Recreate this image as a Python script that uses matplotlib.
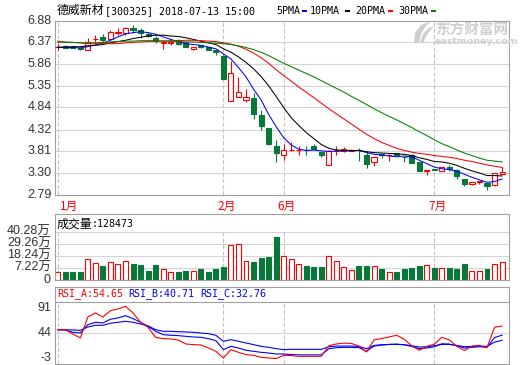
import numpy as np
import matplotlib
matplotlib.use("Agg")
import matplotlib.pyplot as plt
from matplotlib.patches import Rectangle, PathPatch
from matplotlib.path import Path
from matplotlib.transforms import blended_transform_factory

plt.rcParams['font.family'] = ['Liberation Sans', 'Noto Sans CJK SC']
plt.rcParams['lines.scale_dashes'] = False

# ---- datos (indice = sesion) ----
opens = [6.26, 6.29, 6.28, 6.25, 6.18, 6.45, 6.50, 6.44, 6.60, 6.60,
         6.72, 6.65, 6.57, 6.47, 6.36, 6.36, 6.42, 6.37, 6.21, 6.30,
         6.26, 6.18, 6.06, 4.99, 5.09, 5.01, 5.06, 4.67, 4.36, 3.94,
         3.72, 3.83, 3.83, 3.85, 3.94, 3.79, 3.48, 3.84, 3.81, 3.82,
         3.84, 3.72, 3.55, 3.74, 3.72, 3.76, 3.68, 3.72, 3.56, 3.34,
         3.39, 3.35, 3.44, 3.38, 3.17, 3.05, 3.10, 3.07, 3.01, 3.28]
highs = [6.33, 6.31, 6.29, 6.26, 6.47, 6.55, 6.57, 6.67, 6.71, 6.74,
         6.79, 6.71, 6.61, 6.51, 6.43, 6.43, 6.46, 6.39, 6.27, 6.31,
         6.27, 6.21, 6.08, 5.94, 5.55, 5.27, 5.18, 4.79, 4.36, 4.07,
         3.98, 4.03, 3.93, 3.93, 3.97, 3.80, 3.83, 3.94, 3.90, 3.86,
         3.89, 3.81, 3.67, 3.77, 3.74, 3.78, 3.68, 3.75, 3.56, 3.38,
         3.40, 3.45, 3.49, 3.39, 3.17, 3.09, 3.12, 3.07, 3.30, 3.44]
lows = [6.18, 6.23, 6.23, 6.18, 6.18, 6.38, 6.37, 6.44, 6.54, 6.55,
        6.59, 6.47, 6.49, 6.36, 6.22, 6.32, 6.30, 6.26, 6.19, 6.24,
        6.18, 6.08, 5.52, 4.99, 5.09, 4.96, 4.58, 4.32, 3.95, 3.56,
        3.61, 3.82, 3.73, 3.73, 3.86, 3.68, 3.48, 3.73, 3.80, 3.81,
        3.59, 3.42, 3.47, 3.65, 3.59, 3.71, 3.56, 3.54, 3.34, 3.25,
        3.37, 3.35, 3.34, 3.16, 2.99, 3.01, 3.03, 2.89, 2.99, 3.28]
closes = [6.27, 6.25, 6.25, 6.21, 6.37, 6.46, 6.43, 6.61, 6.61, 6.71,
          6.65, 6.58, 6.51, 6.40, 6.37, 6.37, 6.33, 6.26, 6.26, 6.27,
          6.20, 6.14, 5.52, 5.65, 5.20, 5.09, 4.69, 4.41, 3.98, 3.77,
          3.83, 3.84, 3.84, 3.83, 3.86, 3.72, 3.82, 3.85, 3.86, 3.84,
          3.83, 3.52, 3.67, 3.73, 3.73, 3.72, 3.67, 3.54, 3.34, 3.37,
          3.38, 3.44, 3.40, 3.22, 3.05, 3.09, 3.11, 3.00, 3.30, 3.32]

ma5 = [6.25, 6.25, 6.25, 6.24, 6.27, 6.31, 6.35, 6.42, 6.50, 6.57,
       6.60, 6.62, 6.60, 6.56, 6.50, 6.44, 6.39, 6.34, 6.32, 6.30,
       6.26, 6.22, 6.10, 5.98, 5.78, 5.56, 5.27, 5.02, 4.68, 4.39,
       4.13, 3.96, 3.86, 3.83, 3.84, 3.82, 3.81, 3.81, 3.82, 3.82,
       3.83, 3.78, 3.74, 3.72, 3.70, 3.68, 3.70, 3.68, 3.60, 3.52,
       3.44, 3.40, 3.38, 3.34, 3.27, 3.20, 3.14, 3.08, 3.10, 3.16]
ma10 = [6.26, 6.26, 6.26, 6.27, 6.29, 6.30, 6.32, 6.36, 6.39, 6.42,
        6.46, 6.49, 6.52, 6.54, 6.54, 6.52, 6.51, 6.48, 6.44, 6.40,
        6.36, 6.32, 6.22, 6.14, 6.03, 5.90, 5.75, 5.57, 5.35, 5.10,
        4.84, 4.60, 4.42, 4.25, 4.11, 3.97, 3.88, 3.84, 3.83, 3.83,
        3.83, 3.80, 3.78, 3.77, 3.76, 3.75, 3.74, 3.71, 3.66, 3.62,
        3.57, 3.56, 3.53, 3.48, 3.41, 3.35, 3.30, 3.24, 3.24, 3.23]
ma20 = [6.40, 6.38, 6.37, 6.36, 6.34, 6.34, 6.34, 6.34, 6.34, 6.36,
        6.37, 6.38, 6.39, 6.40, 6.40, 6.41, 6.41, 6.42, 6.42, 6.41,
        6.40, 6.39, 6.36, 6.33, 6.28, 6.21, 6.12, 6.01, 5.88, 5.73,
        5.59, 5.46, 5.32, 5.20, 5.07, 4.94, 4.81, 4.69, 4.57, 4.45,
        4.33, 4.21, 4.11, 4.02, 3.95, 3.88, 3.83, 3.79, 3.76, 3.74,
        3.71, 3.69, 3.67, 3.64, 3.60, 3.57, 3.53, 3.49, 3.46, 3.43]
ma30 = [6.38, 6.37, 6.37, 6.36, 6.36, 6.36, 6.37, 6.38, 6.39, 6.40,
        6.40, 6.41, 6.41, 6.41, 6.40, 6.40, 6.39, 6.38, 6.38, 6.37,
        6.36, 6.35, 6.34, 6.32, 6.29, 6.25, 6.20, 6.14, 6.06, 5.97,
        5.88, 5.80, 5.72, 5.64, 5.56, 5.47, 5.38, 5.29, 5.20, 5.10,
        5.01, 4.91, 4.81, 4.72, 4.63, 4.55, 4.46, 4.37, 4.27, 4.18,
        4.08, 3.99, 3.92, 3.84, 3.77, 3.71, 3.65, 3.60, 3.58, 3.56]

# volumen en 万
volumen = [3.3, 3.3, 3.3, 3.3, 15.0, 11.6, 8.9, 12.6, 10.7, 13.5,
           11.0, 9.5, 4.5, 10.1, 6.1, 3.3, 3.5, 4.5, 4.5, 5.7,
           3.5, 6.3, 8.1, 28.3, 29.0, 13.6, 12.1, 15.8, 17.3, 35.7,
           18.2, 15.5, 10.6, 9.1, 7.5, 7.5, 18.2, 13.6, 8.1, 5.4,
           9.1, 9.1, 9.1, 6.3, 3.3, 3.5, 6.3, 7.2, 9.1, 10.0,
           6.6, 7.2, 6.6, 5.7, 10.9, 4.5, 4.5, 5.7, 10.9, 12.85]

rsi_a = [49.1, 49.1, 42.5, 36.4, 68.5, 74.7, 68.5, 78.2, 80.8, 84.9,
         74.7, 60.4, 52.7, 37.4, 35.4, 34.9, 33.3, 27.2, 26.2, 25.7,
         21.1, 16.0, 5.8, 18.5, 14.4, 10.9, 9.9, 6.8, 5.8, 4.8,
         9.9, 9.4, 8.3, 8.3, 8.3, 8.3, 24.5, 27.2, 28.5, 28.0,
         24.0, 14.9, 33.5, 35.5, 38.0, 40.5, 34.5, 24.5, 17.5, 23.5,
         26.8, 37.4, 33.5, 23.5, 17.3, 24.0, 25.0, 21.6, 52.7, 54.65]
rsi_b = [49.1, 48.6, 45.1, 44.0, 56.8, 60.4, 59.4, 65.0, 67.0, 70.6,
         66.0, 60.4, 54.3, 46.6, 41.5, 40.5, 40.0, 38.9, 37.9, 37.4,
         35.4, 32.3, 18.5, 23.6, 21.1, 17.5, 16.0, 14.4, 13.4, 11.9,
         11.9, 11.0, 10.5, 10.5, 10.5, 10.5, 20.0, 21.5, 22.0, 22.0,
         21.5, 16.0, 24.0, 25.5, 26.5, 27.0, 26.0, 23.5, 20.0, 21.0,
         23.0, 27.5, 27.0, 24.5, 21.0, 22.0, 23.0, 22.0, 37.0, 40.71]
rsi_c = [49.1, 49.1, 48.6, 48.1, 53.2, 55.8, 55.8, 58.9, 60.4, 61.9,
         60.4, 57.8, 54.8, 49.1, 46.6, 46.6, 46.1, 45.6, 45.1, 44.0,
         43.0, 40.5, 31.3, 33.8, 31.3, 28.7, 26.2, 23.6, 22.1, 20.1,
         18.5, 19.0, 19.0, 19.0, 19.0, 19.0, 23.0, 24.0, 24.0, 24.0,
         23.5, 20.0, 25.0, 26.0, 26.5, 26.5, 26.0, 24.5, 22.5, 23.0,
         24.5, 26.5, 26.5, 25.0, 23.0, 23.5, 24.0, 23.5, 30.0, 32.76]

precio_ticks = [2.79, 3.30, 3.81, 4.32, 4.84, 5.35, 5.86, 6.37, 6.88]
vol_ticks = [-3.80, 7.22, 18.24, 29.26, 40.28]
vol_labels = ["0", "7.22万", "18.24万", "29.26万", "40.28万"]
rsi_ticks = [-3, 44, 91]
meses_idx = [0, 22, 30, 50]
meses = ["1月", "2月", "6月", "7月"]

titulo_nombre = "德威新材"
titulo_resto = "[300325] 2018-07-13 15:00"
vol_actual = "128473"

ROJO = '#ff0000'
VERDE = '#08773a'
AZUL = '#0000ff'
MARCO = '#a0a0a0'
REJILLA = '#d4d4d4'
DISC = '#c4c4c4'
GRIS_MARCA = '#cfcfcf'
MONO = 'DejaVu Sans Mono'
CJK = 'Noto Sans CJK SC'

W, H = 520, 365
fig = plt.figure(figsize=(5.2, 3.65), dpi=100)


def panel(x0, y0, x1, y1):
    a = fig.add_axes([x0 / W, 1 - y1 / H, (x1 - x0) / W, (y1 - y0) / H])
    a.set_xticks([])
    a.set_yticks([])
    for s in a.spines.values():
        s.set_color(MARCO)
        s.set_linewidth(0.8)
    a.set_xlim(-0.36, 59.92)
    return a


def ftext(px, py, s, **kw):
    return fig.text(px / W, 1 - py / H, s, va='center', **kw)


x = np.arange(len(closes))
o = np.array(opens)
c = np.array(closes)
sube = c >= o
col = np.where(sube, ROJO, VERDE)
relleno = np.where(sube, 'white', VERDE)

# ---- panel de precios ----
ax = panel(55, 20.7, 509, 194.7)
ax.set_ylim(2.79, 6.88)
for v in precio_ticks[1:-1]:
    ax.axhline(v, color=REJILLA, lw=0.8, zorder=0)
for i in meses_idx:
    ax.axvline(i, color=DISC, lw=0.8, ls=(0, (3, 1.5)), zorder=0)
tr = blended_transform_factory(ax.transAxes, ax.transData)
for v in precio_ticks:
    ax.text(-0.007, v, f"{v:.2f}", transform=tr, ha='right', va='center',
            fontsize=9, color='#333333')

ax.vlines(x, lows, highs, colors=col, lw=0.8, zorder=2)
ax.bar(x, np.maximum(np.abs(c - o), 0.006), bottom=np.minimum(o, c), width=0.68,
       color=relleno, edgecolor=col, linewidth=0.8, zorder=3)
ax.plot(x, ma5, color=AZUL, lw=0.75, zorder=4)
ax.plot(x, ma10, color='black', lw=0.75, zorder=4)
ax.plot(x, ma20, color=ROJO, lw=0.75, zorder=4)
ax.plot(x, ma30, color='#008000', lw=0.75, zorder=4)

trm = blended_transform_factory(ax.transData, ax.transAxes)
for k, (i, m) in enumerate(zip(meses_idx, meses)):
    if k == 0:
        ax.text(i + 0.3, -0.069, m, transform=trm, ha='left', va='center',
                fontsize=8.5, color=ROJO, family=CJK)
    else:
        ax.text(i + 0.42, -0.069, m, transform=trm, ha='center', va='center',
                fontsize=8.5, color=ROJO, family=CJK)

# marca de agua (logo aproximado + texto)
def fig_xy(pts):
    return [(px / W, 1 - py / H) for px, py in pts]

hoja = [(414, 43), (415, 33), (421, 25), (431, 21), (425, 27), (421, 34), (419, 43)]
hoja2 = [(420, 43), (423, 34), (429, 28), (434, 26), (429, 32), (425, 38), (424, 43)]
for forma in (hoja, hoja2):
    fig.add_artist(PathPatch(Path(fig_xy(forma + [forma[0]])), transform=fig.transFigure,
                             facecolor=GRIS_MARCA, edgecolor='none'))
ftext(435, 29.5, "东方财富网", color=GRIS_MARCA, fontsize=10.5, weight='bold', family=CJK)
ftext(435, 41, "eastmoney.com", color=GRIS_MARCA, fontsize=6.8, weight='bold',
      family='DejaVu Sans')

# ---- panel de volumen ----
axv = panel(55, 213.7, 509, 279.7)
axv.set_ylim(-3.80, 57.19)
for v in vol_ticks[1:]:
    axv.axhline(v, color=REJILLA, lw=0.8, zorder=0)
axv.vlines(meses_idx, -3.80, 40.28, colors=DISC, lw=0.8, linestyles=[(0, (3, 1.5))], zorder=0)
vol = np.array(volumen)
axv.bar(x, vol + 3.80, bottom=-3.80, width=0.66, color=relleno, edgecolor=col,
        linewidth=0.8, zorder=2)
trv = blended_transform_factory(axv.transAxes, axv.transData)
for v, lab in zip(vol_ticks, vol_labels):
    axv.text(-0.009, v, lab, transform=trv, ha='right', va='center',
             fontsize=9, color='#333333')
ftext(57, 223.7, "成交量", fontsize=8.6, family=CJK, color='black')
ftext(92, 223.7, ":" + vol_actual, fontsize=7.2, family=MONO, color='black')

# ---- panel RSI ----
axr = panel(55, 287.3, 509, 363.7)
axr.set_ylim(-3, 113.96)
axr.axhline(91, color=MARCO, lw=0.8, zorder=0)
axr.axhline(44, color=REJILLA, lw=0.8, zorder=0)
axr.vlines(meses_idx, -3, 91, colors=DISC, lw=0.8, linestyles=[(0, (3, 1.5))], zorder=0)
axr.plot(x, rsi_c, color=AZUL, lw=0.8, zorder=2)
axr.plot(x, rsi_b, color=AZUL, lw=0.8, zorder=2)
axr.plot(x, rsi_a, color=ROJO, lw=0.8, zorder=3)
trr = blended_transform_factory(axr.transAxes, axr.transData)
for v, va in zip(rsi_ticks, ['bottom', 'center', 'top']):
    axr.text(-0.007, v, str(v), transform=trr, ha='right', va=va,
             fontsize=9, color='#333333')
ftext(57, 293.3, f"RSI_A:{rsi_a[-1]:.2f}", fontsize=7.2, family=MONO, color=ROJO)
ftext(128.5, 293.3, f"RSI_B:{rsi_b[-1]:.2f}", fontsize=7.2, family=MONO, color=AZUL)
ftext(200, 293.3, f"RSI_C:{rsi_c[-1]:.2f}", fontsize=7.2, family=MONO, color=AZUL)

# ---- titulo y leyenda ----
ftext(57, 10.8, titulo_nombre, fontsize=8.6, family=CJK, color='black')
ftext(105, 10.8, titulo_resto, fontsize=7.2, family=MONO, color='black')
leyenda = [("5PMA", 276, AZUL, 301.7), ("10PMA", 309.3, 'black', 345),
           ("20PMA", 355, ROJO, 388.3), ("30PMA", 398.3, '#008000', 430.7)]
for txt, px, color, rx in leyenda:
    ftext(px, 10.8, txt, fontsize=7.2, family=MONO, color='black')
    fig.add_artist(Rectangle((rx / W, 1 - 12.3 / H), 5 / W, 2.2 / H,
                             transform=fig.transFigure, color=color, lw=0))

fig.savefig("out.png", dpi=100)
